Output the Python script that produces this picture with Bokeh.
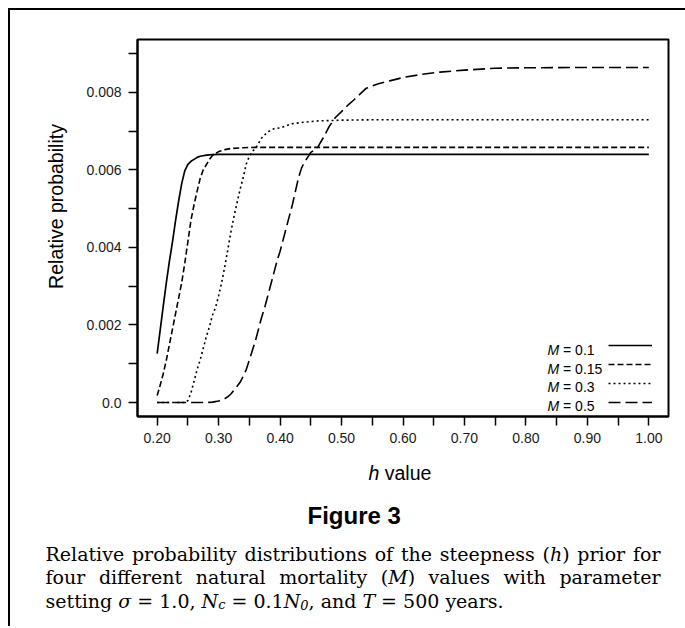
import math
from bokeh.plotting import figure, curdoc
from bokeh.layouts import column, row
from bokeh.models import (Range1d, FixedTicker, Label, Legend, LegendItem, CustomJS,
                          NumeralTickFormatter, CustomJSTickFormatter)
from bokeh.embed import file_html
from bokeh.resources import INLINE

# ---------------- data ----------------
h_m01 = [0.20, 0.205, 0.21, 0.215, 0.22, 0.225, 0.23, 0.235, 0.24, 0.245, 0.25, 0.255,
         0.26, 0.265, 0.27, 0.28, 0.29, 0.30, 1.00]
p_m01 = [0.00126, 0.00188, 0.0025, 0.0031, 0.00365, 0.00415, 0.0047, 0.0052, 0.00565,
         0.00598, 0.00614, 0.00622, 0.00627, 0.00632, 0.00635, 0.00638, 0.00639, 0.0064, 0.0064]

h_m015 = [0.20, 0.205, 0.21, 0.215, 0.22, 0.225, 0.23, 0.235, 0.24, 0.245, 0.25, 0.255,
          0.26, 0.265, 0.27, 0.275, 0.28, 0.285, 0.29, 0.30, 0.31, 0.32, 0.34, 0.36, 1.00]
p_m015 = [0.00018, 0.00045, 0.00075, 0.0011, 0.0015, 0.0019, 0.0023, 0.0027, 0.0031,
          0.0036, 0.00415, 0.0047, 0.0051, 0.00545, 0.00578, 0.006, 0.00613, 0.00627,
          0.00637, 0.00647, 0.00652, 0.00655, 0.00657, 0.00658, 0.00658]

h_m03 = [0.20, 0.245, 0.25, 0.255, 0.26, 0.265, 0.27, 0.275, 0.28, 0.285, 0.29, 0.295,
         0.30, 0.305, 0.31, 0.315, 0.32, 0.325, 0.33, 0.335, 0.34, 0.345, 0.35, 0.355,
         0.36, 0.37, 0.38, 0.39, 0.40, 0.42, 0.44, 0.46, 0.50, 0.55, 1.00]
p_m03 = [0.0, 0.0, 0.00005, 0.00025, 0.00055, 0.00085, 0.0011, 0.0014, 0.0017, 0.00195,
         0.00225, 0.00245, 0.00275, 0.0031, 0.0035, 0.00395, 0.0044, 0.0048, 0.00515,
         0.0055, 0.0058, 0.00615, 0.00635, 0.00648, 0.00655, 0.00682, 0.00698, 0.00706,
         0.00708, 0.00719, 0.00723, 0.00726, 0.00728, 0.00729, 0.00729]

h_m05 = [0.20, 0.28, 0.29, 0.30, 0.31, 0.315, 0.32, 0.325, 0.33, 0.335, 0.34, 0.345,
         0.35, 0.355, 0.36, 0.365, 0.37, 0.375, 0.38, 0.385, 0.39, 0.395, 0.40, 0.405,
         0.41, 0.415, 0.42, 0.425, 0.43, 0.435, 0.44, 0.45, 0.46, 0.47, 0.48, 0.49, 0.50,
         0.51, 0.52, 0.54, 0.56, 0.58, 0.60, 0.63, 0.66, 0.70, 0.75, 0.80, 0.90, 1.00]
p_m05 = [0.0, 0.0, 0.00001, 0.00004, 0.0001, 0.00015, 0.00022, 0.00032, 0.00042, 0.00052,
         0.00068, 0.00085, 0.0011, 0.00135, 0.0016, 0.0019, 0.0022, 0.00245, 0.00275,
         0.00305, 0.00335, 0.00365, 0.0039, 0.0042, 0.0045, 0.0048, 0.0051, 0.00545,
         0.0058, 0.00605, 0.0062, 0.00645, 0.00655, 0.00682, 0.00712, 0.00735, 0.0075,
         0.00766, 0.0078, 0.0081, 0.00822, 0.0083, 0.00838, 0.00846, 0.00852, 0.00857,
         0.00862, 0.00863, 0.00864, 0.00864]

series_names = ["0.1", "0.15", "0.3", "0.5"]

x_major = [0.2, 0.3, 0.4, 0.5, 0.6, 0.7, 0.8, 0.9, 1.0]
x_minor = [0.25, 0.35, 0.45, 0.55, 0.65, 0.75, 0.85, 0.95]
y_major = [0.0, 0.002, 0.004, 0.006, 0.008]
y_minor = [0.001, 0.003, 0.005, 0.007, 0.009]

y_title = "Relative probability"
x_title = [("h", "i"), (" value", "n")]
fig_heading = "Figure 3"
caption_lines = [
    [("Relative probability distributions of the steepness (", "n"), ("h", "i"), (") prior for", "n")],
    [("four different natural mortality (", "n"), ("M", "i"), (") values with parameter", "n")],
    [("setting ", "n"), ("\u03c3", "i"), (" = 1.0, ", "n"), ("N", "i"), ("c", "s"), (" = 0.1", "n"),
     ("N", "i"), ("0", "s"), (", and ", "n"), ("T", "i"), (" = 500 years.", "n")],
]

runs = []      # list of lists of Label models
run_info = []  # per run: [target_width, [space_before flags]]


def seg(fig, text, x, y, font, size, style="normal", angle=0.0, align="left", baseline="alphabetic"):
    lab = Label(x=x, y=y, x_units="screen", y_units="screen", text=text, text_font=font,
                text_font_size=size, text_font_style=style, text_color="black",
                text_align=align, text_baseline=baseline, angle=angle)
    fig.add_layout(lab)
    return lab


def tokenize(parts):
    toks = []
    for text, kind in parts:
        pieces = text.split(" ")
        for k, w in enumerate(pieces):
            if w == "":
                continue
            space_before = (k > 0) or False
            if k == 0 and toks and toks[-1][3]:
                space_before = True
            toks.append([w, kind, space_before, False])
        if text.endswith(" ") and toks:
            toks[-1][3] = True  # trailing space
    # fold trailing-space flags into next token's space_before
    out = []
    for i, (w, kind, sb, ts) in enumerate(toks):
        if i > 0 and toks[i - 1][3]:
            sb = True
        out.append((w, kind, sb))
    return out


def run(fig, parts, x0, y0, font, size, sub_size, target=0):
    labs, flags = [], []
    x = x0
    sz = float(size.replace("px", ""))
    for w, kind, sb in tokenize(parts):
        if sb:
            x += 0.3 * sz
        if kind == "s":
            lab = seg(fig, w, x, y0 - 4, font, sub_size, "italic")
            x += len(w) * 0.5 * float(sub_size.replace("px", ""))
        else:
            lab = seg(fig, w, x, y0, font, size, "italic" if kind == "i" else "normal")
            x += len(w) * 0.56 * sz
        labs.append(lab)
        flags.append(1 if sb else 0)
    runs.append(labs)
    run_info.append([target, flags])


def text_fig(w, h):
    f = figure(width=w, height=h, output_backend="svg", toolbar_location=None,
               x_range=Range1d(0, w), y_range=Range1d(0, h),
               min_border=0, x_axis_location=None, y_axis_location=None)
    f.grid.visible = False
    f.outline_line_color = None
    f.background_fill_color = "white"
    f.border_fill_color = "white"
    return f

# ---------------- main chart ----------------
p = figure(width=603, height=440, output_backend="svg", toolbar_location=None,
           x_range=Range1d(0.168, 1.032), y_range=Range1d(-0.00036, 0.00936),
           min_border_left=55, min_border_right=17, min_border_top=29, min_border_bottom=34)
p.grid.visible = False
p.background_fill_color = "white"
p.border_fill_color = "white"
p.outline_line_color = "black"
p.outline_line_width = 2

for ax in (p.xaxis[0], p.yaxis[0]):
    ax.axis_line_width = 2
    ax.major_tick_line_width = 1.5
    ax.minor_tick_line_width = 1.5
    ax.major_tick_out = 9
    ax.minor_tick_out = 9
    ax.major_tick_in = 0
    ax.minor_tick_in = 0
    ax.major_label_text_font = "Liberation Sans"
    ax.major_label_text_font_size = "14px"
    ax.major_label_text_color = "#1a1a1a"
    ax.major_label_standoff = 7

p.xaxis[0].ticker = FixedTicker(ticks=x_major, minor_ticks=x_minor)
p.xaxis[0].formatter = NumeralTickFormatter(format="0.00")
p.yaxis[0].ticker = FixedTicker(ticks=y_major, minor_ticks=y_minor)
p.yaxis[0].formatter = CustomJSTickFormatter(code="return Math.abs(tick) < 1e-9 ? '0.0' : tick.toFixed(3);")

r1 = p.line(h_m01, p_m01, line_color="black", line_width=1.7)
r2 = p.line(h_m015, p_m015, line_color="black", line_width=1.6, line_dash="6 3")
r3 = p.line(h_m03, p_m03, line_color="black", line_width=1.6, line_dash="2 3")
r4 = p.line(h_m05, p_m05, line_color="black", line_width=1.6, line_dash="12 5")

legend = Legend(items=[LegendItem(label=" ", renderers=[r]) for r in (r1, r2, r3, r4)],
                location=(471, 5), glyph_width=44, glyph_height=18, label_height=18,
                spacing=1, padding=0, margin=0, label_width=0, label_standoff=0,
                background_fill_alpha=0, border_line_alpha=0, label_text_font_size="13px")
p.add_layout(legend)

legend_baselines = [67, 48, 30, 11]
for name, yb in zip(series_names, legend_baselines):
    run(p, [("M", "i"), (" = " + name, "n")], 410, yb, "Liberation Sans", "14px", "10px")

# ---------------- y title (left strip) ----------------
left = text_fig(72, 440)
seg(left, y_title, 45, 210, "Liberation Sans", "19.5px", angle=math.pi / 2,
    align="center", baseline="middle")

# ---------------- x title, heading, caption (bottom strip) ----------------
bottom = text_fig(675, 176)
run(bottom, x_title, 358, 154, "Liberation Sans", "19.5px", "12px")
seg(bottom, fig_heading, 297, 111, "Liberation Sans", "24px", style="bold")
caption_baselines = [73, 49.5, 26]
caption_targets = [615, 615, 0]
for parts, yb, tw in zip(caption_lines, caption_baselines, caption_targets):
    run(bottom, parts, 35, yb, "DejaVu Serif", "19px", "13px", target=tw)

cb = CustomJS(args=dict(runs=runs, info=run_info), code="""
const ctx = document.createElement('canvas').getContext('2d');
const fnt = (lab) => lab.text_font_style + ' ' + lab.text_font_size + " '" + lab.text_font + "'";
for (let i = 0; i < runs.length; i++) {
  const r = runs[i];
  const target = info[i][0], flags = info[i][1];
  if (r[0]._x0 === undefined) { r[0]._x0 = r[0].x; }
  const x0 = r[0]._x0;
  const widths = [], spaces = [];
  let natural = 0, nsp = 0;
  for (let j = 0; j < r.length; j++) {
    ctx.font = fnt(r[j]);
    widths.push(ctx.measureText(r[j].text).width);
    spaces.push(flags[j] ? ctx.measureText(' ').width : 0);
    natural += widths[j] + spaces[j];
    if (flags[j]) nsp += 1;
  }
  const extra = (target > 0 && nsp > 0 && target > natural) ? (target - natural) / nsp : 0;
  let x = x0;
  for (let j = 0; j < r.length; j++) {
    if (flags[j]) x += spaces[j] + extra;
    r[j].x = x;
    x += widths[j];
  }
}
""")

layout = column(row(left, p), bottom)
layout.styles = {"margin-left": "8px", "margin-top": "8px",
                 "border-top": "2px solid black", "border-left": "2px solid black"}

doc = curdoc()
doc.add_root(layout)
doc.js_on_event("document_ready", cb)
p.js_on_change("inner_width", cb)

open("out.html", "w").write(file_html(layout, INLINE))
